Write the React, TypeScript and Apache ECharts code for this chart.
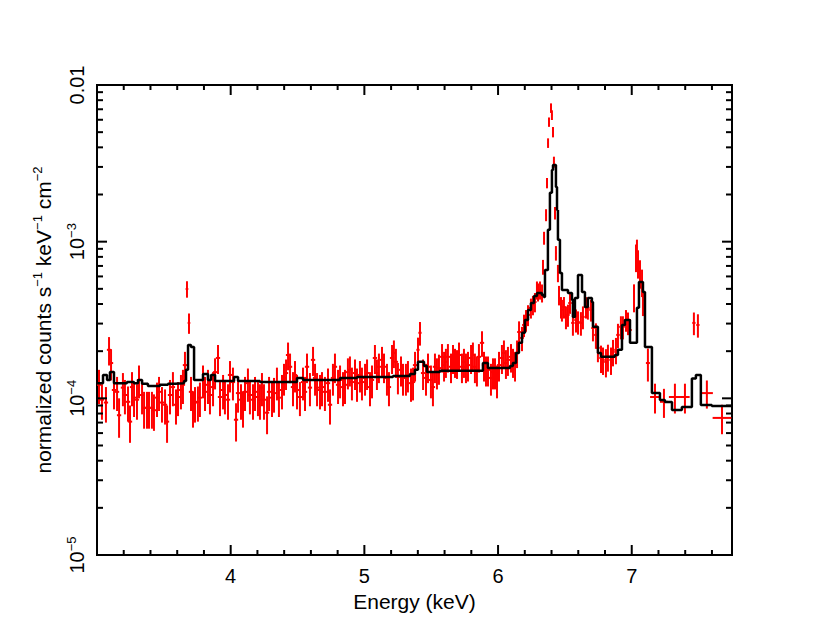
import { useEffect, useRef } from 'react';
import * as echarts from 'echarts';

// flux values are given in units of 1e-4 counts s^-1 keV^-1 cm^-2
const FLUX_UNIT = 1e-4;

const energy = [
  3.015, 3.037, 3.067, 3.090, 3.105, 3.127, 3.150, 3.165, 3.194, 3.209,
  3.232, 3.247, 3.262, 3.277, 3.299, 3.314, 3.337, 3.352, 3.374, 3.389,
  3.411, 3.426, 3.449, 3.464, 3.486, 3.509, 3.524, 3.546, 3.568, 3.591,
  3.606, 3.628, 3.643, 3.658, 3.673, 3.688, 3.703, 3.718, 3.733, 3.755,
  3.770, 3.793, 3.808, 3.830, 3.845, 3.868, 3.883, 3.905, 3.920, 3.943,
  3.957, 3.980, 3.995, 4.017, 4.040, 4.055, 4.077, 4.092, 4.107, 4.129,
  4.144, 4.167, 4.182, 4.204, 4.219, 4.234, 4.249, 4.272, 4.287, 4.309,
  4.324, 4.346, 4.361, 4.384, 4.399, 4.414, 4.429, 4.444, 4.466, 4.481,
  4.496, 4.518, 4.541, 4.556, 4.571, 4.593, 4.616, 4.631, 4.646, 4.668,
  4.683, 4.705, 4.728, 4.743, 4.765, 4.780, 4.803, 4.818, 4.840, 4.855,
  4.877, 4.892, 4.907, 4.930, 4.945, 4.967, 4.982, 5.005, 5.020, 5.042,
  5.057, 5.079, 5.094, 5.109, 5.132, 5.147, 5.169, 5.184, 5.207, 5.221,
  5.236, 5.251, 5.274, 5.289, 5.311, 5.326, 5.349, 5.364, 5.379, 5.401,
  5.416, 5.439, 5.461, 5.476, 5.498, 5.513, 5.528, 5.543, 5.558, 5.581,
  5.596, 5.610, 5.625, 5.648, 5.663, 5.678, 5.693, 5.708, 5.730, 5.745,
  5.760, 5.775, 5.798, 5.812, 5.827, 5.842, 5.857, 5.880, 5.895, 5.910,
  5.925, 5.947, 5.962, 5.977, 5.992, 6.007, 6.029, 6.044, 6.059, 6.074,
  6.097, 6.112, 6.127, 6.142, 6.157, 6.179, 6.194, 6.209, 6.224, 6.246,
  6.261, 6.276, 6.291, 6.299, 6.314, 6.329, 6.336, 6.344, 6.359, 6.366,
  6.374, 6.381, 6.396, 6.403, 6.411, 6.418, 6.426, 6.433, 6.448, 6.456,
  6.471, 6.478, 6.493, 6.508, 6.523, 6.538, 6.560, 6.583, 6.598, 6.620,
  6.635, 6.658, 6.672, 6.695, 6.710, 6.732, 6.747, 6.770, 6.785, 6.807,
  6.822, 6.845, 6.860, 6.882, 6.897, 6.919, 6.934, 6.957, 6.972, 6.987,
  7.017, 7.032, 7.039, 7.047, 7.062, 7.077, 7.084, 7.121, 7.174, 7.241,
  7.323, 7.398, 7.465, 7.495, 7.562, 7.675,
];

const flux = [
  1.22, 0.98, 0.94, 2.04, 1.68, 1.13, 1.10, 0.78, 1.17, 1.05,
  0.95, 0.71, 1.18, 1.01, 0.98, 1.31, 1.05, 0.87, 0.87, 0.87,
  0.87, 0.84, 1.01, 1.10, 0.94, 0.91, 0.71, 1.05, 1.18, 0.91,
  1.02, 1.13, 1.22, 1.63, 4.99, 3.03, 1.10, 0.88, 0.94, 0.95,
  1.01, 1.31, 1.10, 1.22, 1.05, 1.18, 1.47, 1.81, 1.02, 1.13,
  1.05, 0.98, 1.41, 1.27, 0.73, 1.08, 0.98, 0.88, 1.10, 1.25,
  1.05, 0.98, 1.10, 1.02, 0.98, 1.17, 0.98, 0.81, 1.10, 1.01,
  1.08, 1.27, 1.01, 1.13, 1.35, 1.45, 1.89, 1.59, 1.18, 1.41,
  1.13, 1.02, 1.27, 1.10, 1.59, 1.17, 1.76, 1.35, 1.17, 1.13,
  1.18, 1.10, 1.25, 0.91, 1.35, 1.59, 1.22, 1.31, 1.18, 1.22,
  1.47, 1.52, 1.27, 1.45, 1.25, 1.41, 1.27, 1.35, 1.45, 1.18,
  1.31, 1.81, 1.45, 1.59, 1.76, 1.59, 1.35, 1.18, 1.81, 1.95,
  1.71, 1.37, 1.52, 1.35, 1.35, 1.41, 1.25, 1.27, 1.63, 2.04,
  2.62, 1.45, 1.35, 1.59, 1.31, 1.18, 1.59, 1.47, 1.56, 1.84,
  1.63, 1.71, 1.84, 1.59, 1.81, 1.71, 1.68, 1.89, 1.59, 1.71,
  1.59, 1.63, 1.81, 1.89, 1.59, 1.52, 1.84, 2.26, 1.63, 1.52,
  1.52, 1.35, 1.47, 1.47, 1.31, 1.63, 1.81, 1.95, 1.68, 1.76,
  1.84, 1.71, 1.63, 1.95, 2.65, 2.43, 2.94, 3.16, 3.41, 3.78,
  3.95, 4.12, 4.92, 4.78, 4.92, 4.71, 6.90, 10.56, 14.81, 23.70,
  42.66, 58.06, 71.33, 64.36, 50.12, 32.27, 15.25, 8.47, 6.31, 4.57,
  3.83, 3.67, 3.83, 3.31, 3.41, 4.06, 3.03, 3.16, 3.07, 3.03,
  3.31, 3.83, 3.78, 3.67, 2.81, 2.54, 2.10, 1.81, 1.76, 1.71,
  1.84, 1.76, 1.98, 2.04, 2.54, 2.86, 2.86, 3.16, 3.03, 2.73,
  4.44, 7.99, 8.60, 7.31, 6.31, 5.53, 4.25, 1.68, 1.02, 0.95,
  1.02, 1.02, 3.03, 2.94, 1.08, 0.75,
];

const fluxErr = [
  0.30, 0.25, 0.24, 0.42, 0.38, 0.28, 0.27, 0.22, 0.28, 0.26,
  0.24, 0.19, 0.29, 0.25, 0.25, 0.31, 0.26, 0.23, 0.23, 0.23,
  0.23, 0.22, 0.25, 0.27, 0.24, 0.23, 0.19, 0.26, 0.29, 0.23,
  0.25, 0.28, 0.30, 0.35, 0.60, 0.45, 0.27, 0.23, 0.24, 0.24,
  0.25, 0.31, 0.27, 0.30, 0.26, 0.29, 0.33, 0.38, 0.25, 0.28,
  0.26, 0.25, 0.32, 0.30, 0.20, 0.27, 0.25, 0.23, 0.27, 0.30,
  0.26, 0.25, 0.27, 0.25, 0.25, 0.28, 0.25, 0.22, 0.27, 0.25,
  0.27, 0.30, 0.25, 0.28, 0.31, 0.32, 0.38, 0.34, 0.29, 0.32,
  0.28, 0.25, 0.30, 0.27, 0.34, 0.28, 0.37, 0.31, 0.28, 0.28,
  0.29, 0.27, 0.30, 0.23, 0.31, 0.34, 0.30, 0.31, 0.29, 0.30,
  0.33, 0.33, 0.30, 0.32, 0.30, 0.32, 0.30, 0.31, 0.32, 0.29,
  0.31, 0.38, 0.32, 0.34, 0.37, 0.34, 0.31, 0.29, 0.38, 0.39,
  0.36, 0.31, 0.33, 0.31, 0.31, 0.32, 0.30, 0.30, 0.35, 0.40,
  0.45, 0.32, 0.31, 0.34, 0.31, 0.29, 0.34, 0.33, 0.34, 0.38,
  0.35, 0.36, 0.38, 0.34, 0.38, 0.36, 0.35, 0.38, 0.34, 0.36,
  0.34, 0.35, 0.38, 0.38, 0.34, 0.33, 0.38, 0.42, 0.35, 0.33,
  0.33, 0.31, 0.33, 0.33, 0.31, 0.35, 0.38, 0.39, 0.35, 0.37,
  0.38, 0.36, 0.35, 0.39, 0.45, 0.43, 0.48, 0.50, 0.52, 0.55,
  0.56, 0.58, 0.65, 0.63, 0.65, 0.62, 0.75, 1.00, 1.30, 1.80,
  3.00, 4.00, 5.00, 4.60, 3.80, 2.60, 1.40, 0.90, 0.80, 0.65,
  0.60, 0.58, 0.60, 0.55, 0.55, 0.60, 0.52, 0.53, 0.52, 0.52,
  0.55, 0.60, 0.60, 0.58, 0.50, 0.47, 0.40, 0.36, 0.35, 0.35,
  0.36, 0.35, 0.38, 0.39, 0.45, 0.48, 0.48, 0.50, 0.50, 0.48,
  0.90, 1.60, 1.70, 1.50, 1.30, 1.10, 0.90, 0.40, 0.22, 0.20,
  0.22, 0.22, 0.50, 0.50, 0.22, 0.16,
];

const halfWidth = [
  0.016, 0.016, 0.016, 0.016, 0.016, 0.016, 0.016, 0.016, 0.016, 0.016,
  0.016, 0.016, 0.016, 0.016, 0.016, 0.016, 0.016, 0.016, 0.016, 0.016,
  0.016, 0.016, 0.016, 0.016, 0.016, 0.016, 0.016, 0.016, 0.016, 0.016,
  0.016, 0.016, 0.016, 0.016, 0.010, 0.010, 0.016, 0.016, 0.016, 0.016,
  0.016, 0.016, 0.016, 0.016, 0.016, 0.016, 0.016, 0.016, 0.016, 0.016,
  0.016, 0.016, 0.016, 0.016, 0.016, 0.016, 0.016, 0.016, 0.016, 0.016,
  0.016, 0.016, 0.016, 0.016, 0.016, 0.016, 0.016, 0.016, 0.016, 0.016,
  0.016, 0.016, 0.016, 0.016, 0.016, 0.016, 0.016, 0.016, 0.016, 0.016,
  0.016, 0.016, 0.016, 0.016, 0.016, 0.016, 0.016, 0.016, 0.016, 0.016,
  0.016, 0.016, 0.016, 0.016, 0.016, 0.016, 0.016, 0.016, 0.016, 0.016,
  0.016, 0.016, 0.016, 0.016, 0.016, 0.016, 0.016, 0.016, 0.016, 0.016,
  0.016, 0.016, 0.016, 0.016, 0.016, 0.016, 0.016, 0.016, 0.016, 0.016,
  0.016, 0.016, 0.016, 0.016, 0.016, 0.016, 0.016, 0.016, 0.016, 0.012,
  0.012, 0.016, 0.016, 0.016, 0.016, 0.016, 0.016, 0.016, 0.016, 0.016,
  0.016, 0.016, 0.016, 0.016, 0.016, 0.016, 0.016, 0.016, 0.016, 0.016,
  0.016, 0.016, 0.016, 0.016, 0.016, 0.016, 0.016, 0.016, 0.016, 0.016,
  0.016, 0.016, 0.016, 0.016, 0.016, 0.016, 0.016, 0.016, 0.016, 0.016,
  0.016, 0.016, 0.016, 0.016, 0.014, 0.014, 0.014, 0.014, 0.014, 0.014,
  0.012, 0.012, 0.006, 0.006, 0.006, 0.006, 0.004, 0.004, 0.004, 0.004,
  0.004, 0.004, 0.004, 0.004, 0.004, 0.004, 0.004, 0.004, 0.007, 0.007,
  0.007, 0.007, 0.013, 0.013, 0.013, 0.013, 0.013, 0.013, 0.013, 0.013,
  0.013, 0.013, 0.013, 0.013, 0.013, 0.013, 0.013, 0.013, 0.013, 0.013,
  0.013, 0.013, 0.013, 0.013, 0.013, 0.013, 0.013, 0.013, 0.013, 0.013,
  0.0075, 0.005, 0.005, 0.005, 0.0075, 0.005, 0.005, 0.015, 0.037, 0.030,
  0.045, 0.035, 0.012, 0.012, 0.045, 0.070,
];

// model: left bin edges (last entry = right end) and model flux per bin
const modelEdges = [
  3.000, 3.045, 3.075, 3.097, 3.127, 3.224, 3.277, 3.307, 3.337, 3.381,
  3.471, 3.531, 3.583, 3.651, 3.666, 3.681, 3.703, 3.726, 3.793, 3.830,
  3.853, 3.883, 4.025, 4.055, 4.219, 4.496, 4.541, 4.818, 4.945, 5.214,
  5.341, 5.378, 5.401, 5.446, 5.468, 5.565, 5.887, 5.924, 6.014, 6.089,
  6.111, 6.134, 6.156, 6.179, 6.201, 6.224, 6.246, 6.269, 6.291, 6.328,
  6.343, 6.351, 6.373, 6.388, 6.403, 6.411, 6.433, 6.441, 6.448, 6.463,
  6.478, 6.523, 6.553, 6.560, 6.575, 6.598, 6.628, 6.650, 6.672, 6.702,
  6.710, 6.747, 6.770, 6.874, 6.897, 6.927, 6.949, 6.987, 7.039, 7.054,
  7.084, 7.099, 7.151, 7.211, 7.248, 7.301, 7.375, 7.450, 7.480, 7.517,
  7.599, 7.750,
];

const modelFlux = [
  1.25, 1.41, 1.31, 1.47, 1.25, 1.27, 1.25, 1.31, 1.24, 1.20,
  1.22, 1.24, 1.25, 1.29, 1.52, 2.19, 2.13, 1.31, 1.43, 1.31,
  1.41, 1.29, 1.37, 1.29, 1.27, 1.35, 1.31, 1.35, 1.37, 1.39,
  1.43, 1.52, 1.71, 1.61, 1.47, 1.50, 1.68, 1.56, 1.56, 1.61,
  1.68, 1.95, 2.26, 2.62, 3.16, 3.66, 4.06, 4.50, 4.70, 4.57,
  4.44, 6.60, 11.9, 20.5, 28.7, 30.9, 22.3, 15.9, 10.3, 6.31,
  4.92, 4.70, 4.25, 3.31, 4.37, 6.13, 4.78, 3.83, 4.37, 4.12,
  2.86, 1.95, 1.84, 1.89, 2.04, 2.94, 3.16, 2.26, 3.78, 5.53,
  4.78, 2.13, 1.08, 0.977, 0.948, 0.843, 0.881, 1.34, 1.41, 0.908,
  0.895, 0.895,
];

const xMajorTicks = [4, 5, 6, 7];
const xMinorTicks = [3.2, 3.4, 3.6, 3.8, 4.2, 4.4, 4.6, 4.8, 5.2, 5.4, 5.6, 5.8, 6.2, 6.4, 6.6, 6.8, 7.2, 7.4, 7.6];
const yMajorTicks = [1e-4, 1e-3];
const yMinorTicks = [
  2e-5, 3e-5, 4e-5, 5e-5, 6e-5, 7e-5, 8e-5, 9e-5,
  2e-4, 3e-4, 4e-4, 5e-4, 6e-4, 7e-4, 8e-4, 9e-4,
  2e-3, 3e-3, 4e-3, 5e-3, 6e-3, 7e-3, 8e-3, 9e-3,
];

const FONT = "'Liberation Sans', Arial, Helvetica, sans-serif";

export default function App() {
  const ref = useRef<HTMLDivElement>(null);

  useEffect(() => {
    if (!ref.current) return;
    const chart = echarts.init(ref.current, null, { renderer: 'svg' });

    const errData = energy.map((e, i) => [e, flux[i] * FLUX_UNIT, fluxErr[i] * FLUX_UNIT, halfWidth[i]]);
    const modelData = modelEdges.map((e, i) => [e, modelFlux[i] * FLUX_UNIT]);
    const tickData = [
      ...xMajorTicks.map((v) => [v, 1e-4, 0]),
      ...xMinorTicks.map((v) => [v, 1e-4, 1]),
      ...yMajorTicks.map((v) => [5, v, 2]),
      ...yMinorTicks.map((v) => [5, v, 3]),
    ];

    const red = '#ff0000';

    chart.setOption({
      animation: false,
      backgroundColor: '#ffffff',
      grid: {
        left: 97, top: 85, width: 635, height: 470,
        show: true, borderColor: '#000', borderWidth: 2, backgroundColor: 'transparent',
      },
      xAxis: {
        type: 'value', min: 3.0, max: 7.75, interval: 1,
        axisLine: { show: false }, axisTick: { show: false }, splitLine: { show: false },
        axisLabel: {
          fontSize: 20, color: '#000', fontFamily: FONT, margin: 11,
          formatter: (v: number) => (Math.abs(v - Math.round(v)) < 1e-6 && v > 3.5 && v < 7.5 ? String(Math.round(v)) : ''),
        },
        name: 'Energy (keV)', nameLocation: 'middle', nameGap: 33,
        nameTextStyle: { fontSize: 21, color: '#000', fontFamily: FONT },
      },
      yAxis: {
        type: 'log', logBase: 10, min: 1e-5, max: 1e-2,
        axisLine: { show: false }, axisTick: { show: false }, splitLine: { show: false },
        minorTick: { show: false },
        axisLabel: {
          rotate: 90, margin: 9, color: '#000', fontFamily: FONT,
          formatter: (v: number) => {
            if (v > 0.005) return '{n|0.01}';
            const exp = Math.round(Math.log10(v));
            return '{n|10}{s|\u2212' + -exp + '}';
          },
          rich: {
            n: { fontSize: 20, fontFamily: FONT, color: '#000', lineHeight: 23 },
            s: { fontSize: 13, fontFamily: FONT, color: '#000', verticalAlign: 'top', lineHeight: 13 },
          },
        },
        name: '{t|normalized counts s}{s|\u22121}{t| keV}{s|\u22121}{t| cm}{s|\u22122}',
        nameLocation: 'middle', nameRotate: 90, nameGap: 41,
        nameTextStyle: {
          rich: {
            t: { fontSize: 21, fontFamily: FONT, color: '#000', lineHeight: 25 },
            s: { fontSize: 13, fontFamily: FONT, color: '#000', verticalAlign: 'top', lineHeight: 13 },
          },
        },
      },
      series: [
        {
          type: 'custom',
          name: 'data',
          silent: true,
          clip: true,
          z: 2,
          encode: { x: 0, y: 1 },
          data: errData,
          renderItem: (params: any, api: any) => {
            const e = api.value(0);
            const v = api.value(1);
            const err = api.value(2);
            const hw = api.value(3);
            const lo = Math.max(v - err, 1.01e-5);
            const pL = api.coord([e - hw, v]);
            const pR = api.coord([e + hw, v]);
            const pT = api.coord([e, v + err]);
            const pB = api.coord([e, lo]);
            const style = { stroke: red, lineWidth: 2, fill: null };
            return {
              type: 'group',
              children: [
                { type: 'line', shape: { x1: pL[0], y1: pL[1], x2: pR[0], y2: pR[1] }, style },
                { type: 'line', shape: { x1: pT[0], y1: pT[1], x2: pB[0], y2: pB[1] }, style },
              ],
            };
          },
        },
        {
          type: 'line',
          name: 'model',
          data: modelData,
          step: 'end',
          symbol: 'none',
          showSymbol: false,
          silent: true,
          z: 3,
          lineStyle: { color: '#000', width: 2.5 },
        },
        {
          type: 'custom',
          name: 'ticks',
          silent: true,
          z: 4,
          encode: { x: 0, y: 1 },
          data: tickData,
          renderItem: (params: any, api: any) => {
            const cs = params.coordSys;
            const kind = api.value(2);
            const style = { stroke: '#000', lineWidth: 2 };
            if (kind === 0 || kind === 1) {
              const len = kind === 0 ? 10 : 5;
              const px = api.coord([api.value(0), 1e-4])[0];
              const yb = cs.y + cs.height;
              return {
                type: 'group',
                children: [
                  { type: 'line', shape: { x1: px, y1: yb, x2: px, y2: yb - len }, style },
                  { type: 'line', shape: { x1: px, y1: cs.y, x2: px, y2: cs.y + len }, style },
                ],
              };
            }
            const len = kind === 2 ? 10 : 6;
            const py = api.coord([5, api.value(1)])[1];
            const xr = cs.x + cs.width;
            return {
              type: 'group',
              children: [
                { type: 'line', shape: { x1: cs.x, y1: py, x2: cs.x + len, y2: py }, style },
                { type: 'line', shape: { x1: xr, y1: py, x2: xr - len, y2: py }, style },
              ],
            };
          },
        },
      ],
    });

    return () => chart.dispose();
  }, []);

  return (
    <div
      ref={ref}
      style={{ position: 'absolute', left: 0, top: 0, width: 830, height: 642, background: '#fff' }}
    />
  );
}
